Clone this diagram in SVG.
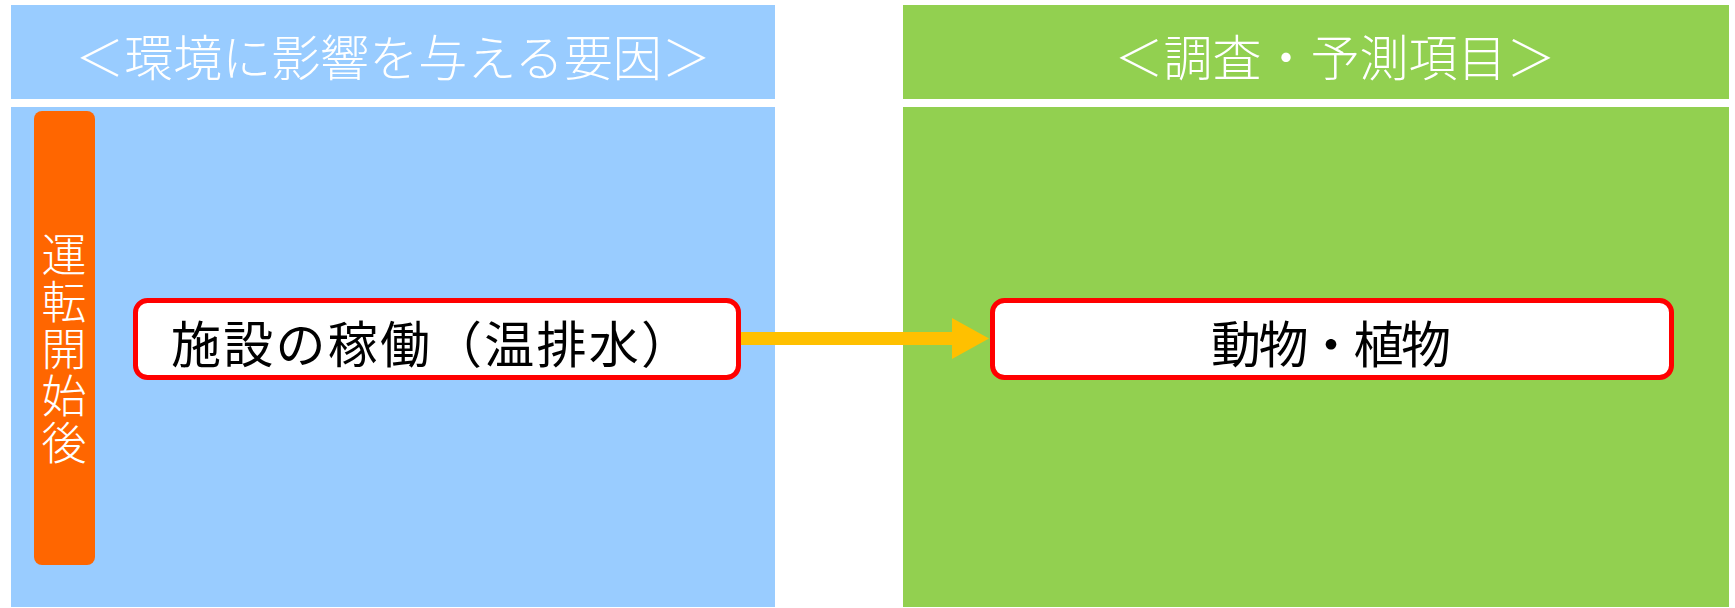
<svg xmlns="http://www.w3.org/2000/svg" width="1735" height="608" viewBox="0 0 1735 608">
<defs>
<style>
.hdr{font-family:"Noto Sans CJK JP","Noto Sans",sans-serif;font-size:49px;fill:#fff;text-anchor:middle;dominant-baseline:central;font-weight:300}
.lbl{font-family:"Noto Sans CJK JP","Noto Sans",sans-serif;font-size:50px;fill:#000;text-anchor:middle;dominant-baseline:central}
.vt{font-family:"Noto Sans CJK JP","Noto Sans",sans-serif;font-size:45px;fill:#fff;font-weight:300;text-anchor:middle;dominant-baseline:central}
.node{fill:#fff;stroke:#FF0000;stroke-width:5}
</style>
</defs>
<rect width="1735" height="608" fill="#fff"/>
<g id="left-panel">
<rect x="11" y="5" width="764" height="94" fill="#99CCFF"/>
<text class="hdr" x="393" y="54">＜環境に影響を与える要因＞</text>
<rect x="11" y="107" width="764" height="500" fill="#99CCFF"/>
</g>
<g id="right-panel">
<rect x="903" y="5" width="826" height="94" fill="#92D050"/>
<text class="hdr" x="1335" y="54">＜調査・予測項目＞</text>
<rect x="903" y="107" width="826" height="500" fill="#92D050"/>
</g>
<g id="phase">
<rect x="34" y="111" width="61" height="454" rx="8" fill="#FF6600"/>
<text class="vt" x="64" y="252">運</text>
<text class="vt" x="64" y="299">転</text>
<text class="vt" x="64" y="346">開</text>
<text class="vt" x="64" y="393">始</text>
<text class="vt" x="64" y="440">後</text>
</g>
<g id="connectors">
<path d="M741,338.5 H952" stroke="#FFC000" stroke-width="13" fill="none"/>
<path d="M952,318 L989,338.5 L952,359 Z" fill="#FFC000"/>
</g>
<g id="node-source">
<rect class="node" x="135.5" y="300.5" width="603" height="77" rx="12"/>
<text class="lbl" x="431" y="341" textLength="520" lengthAdjust="spacing">施設の稼働（温排水）</text>
</g>
<g id="node-target">
<rect class="node" x="992.5" y="300.5" width="679" height="77" rx="12"/>
<text class="lbl" x="1331" y="341" textLength="240" lengthAdjust="spacing">動物・植物</text>
</g>
</svg>
